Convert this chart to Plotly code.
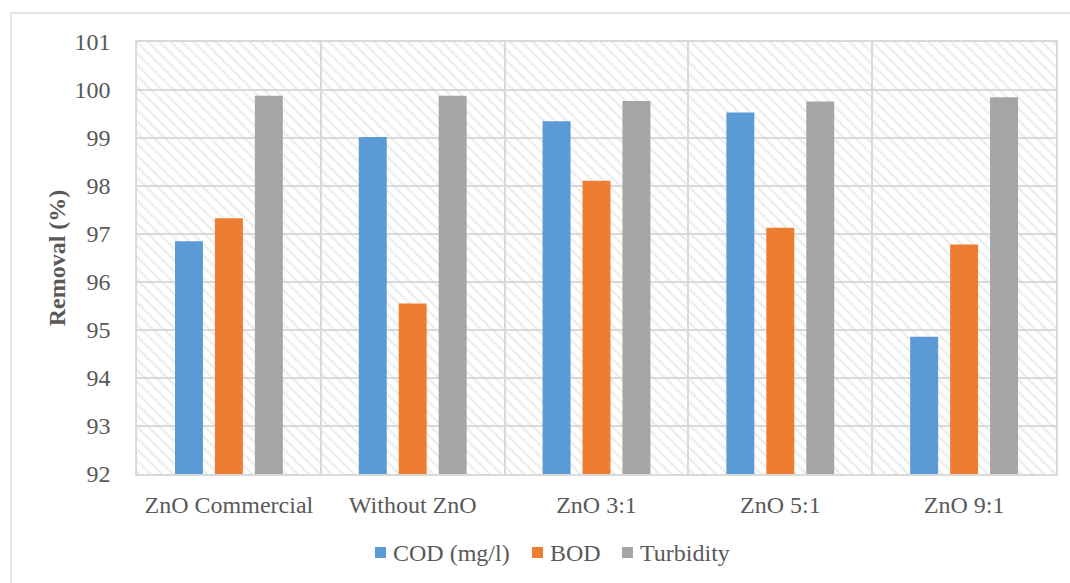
import plotly.graph_objects as go

# Removal efficiency by catalyst condition
categories = ["ZnO Commercial", "Without ZnO", "ZnO 3:1", "ZnO 5:1", "ZnO 9:1"]
cod = [96.85, 99.02, 99.35, 99.53, 94.86]
bod = [97.33, 95.55, 98.11, 97.13, 96.78]
turbidity = [99.88, 99.88, 99.77, 99.76, 99.85]

series = [
    ("COD (mg/l)", cod, "#5B9BD5"),
    ("BOD", bod, "#ED7D31"),
    ("Turbidity", turbidity, "#A5A5A5"),
]

FONT = "Liberation Serif"
TEXT = "#595959"
GRID = "#d9d9d9"

W, H = 1070, 583
ML, MR, MT, MB = 137, 14, 42, 109
PW, PH = W - ML - MR, H - MT - MB


def px_to_paper(px, py):
    return (px - ML) / PW, (MT + PH - py) / PH


fig = go.Figure()

# hatched plot-area background on its own hidden unit axes
fig.add_trace(go.Bar(
    x=[0.5], y=[1], width=[1], base=[0],
    xaxis="x", yaxis="y",
    marker=dict(color="rgba(0,0,0,0)", line=dict(width=0),
                pattern=dict(shape="\\", size=8, solidity=0.28,
                             fgcolor="#d9d9d9", bgcolor="rgba(0,0,0,0)")),
    showlegend=False, hoverinfo="skip",
))

for name, vals, color in series:
    fig.add_trace(go.Bar(
        x=categories, y=vals, name=name,
        xaxis="x2", yaxis="y2", showlegend=False,
        marker=dict(color=color, line=dict(width=0)),
    ))

# compact legend row below the axis: colour key followed by its label
shapes = []
annotations = []
legend_key_left = [375, 532, 622]
legend_row_y = 552.5
key = 11
for (name, _, color), kx in zip(series, legend_key_left):
    x0, y0 = px_to_paper(kx, legend_row_y + key / 2)
    x1, y1 = px_to_paper(kx + key, legend_row_y - key / 2)
    shapes.append(dict(type="rect", xref="paper", yref="paper",
                       x0=x0, x1=x1, y0=y0, y1=y1,
                       fillcolor=color, line=dict(width=0)))
    tx, ty = px_to_paper(kx + key + 5, legend_row_y)
    annotations.append(dict(text=name, xref="paper", yref="paper", x=tx, y=ty,
                            xanchor="left", yanchor="middle", showarrow=False,
                            font=dict(family=FONT, size=24, color=TEXT)))

# chart-area frame
bx0, by0 = px_to_paper(11, 600)
bx1, by1 = px_to_paper(1085, 13)
shapes.append(dict(type="rect", xref="paper", yref="paper",
                   x0=bx0, x1=bx1, y0=by0, y1=by1,
                   line=dict(color=GRID, width=1.5), fillcolor="rgba(0,0,0,0)", layer="below"))

fig.update_layout(
    width=W, height=H,
    margin=dict(l=ML, r=MR, t=MT, b=MB),
    paper_bgcolor="white", plot_bgcolor="white",
    font=dict(family=FONT, size=24, color=TEXT),
    barmode="group", bargap=0.348, bargroupgap=0.3,
    showlegend=False,
    xaxis=dict(range=[0, 1], visible=False, fixedrange=True),
    yaxis=dict(range=[0, 1], visible=False, fixedrange=True),
    xaxis2=dict(overlaying="x", anchor="y2", type="category",
                tickson="boundaries", showgrid=True, gridcolor=GRID, gridwidth=1.5,
                showline=True, linecolor=GRID, linewidth=1.5, mirror=True,
                ticks="", ticklabelstandoff=8,
                tickfont=dict(family=FONT, size=24, color=TEXT)),
    yaxis2=dict(overlaying="y", anchor="x2", range=[92, 101], dtick=1,
                showgrid=True, gridcolor=GRID, gridwidth=1.5,
                showline=True, linecolor=GRID, linewidth=1.5, mirror=True,
                ticks="", ticklabelstandoff=20, zeroline=False,
                tickfont=dict(family=FONT, size=24, color=TEXT),
                title=dict(text="<b>Removal (%)</b>", standoff=2,
                           font=dict(family=FONT, size=24, color=TEXT))),
    shapes=shapes,
    annotations=annotations,
)

fig.write_html("out.html")
